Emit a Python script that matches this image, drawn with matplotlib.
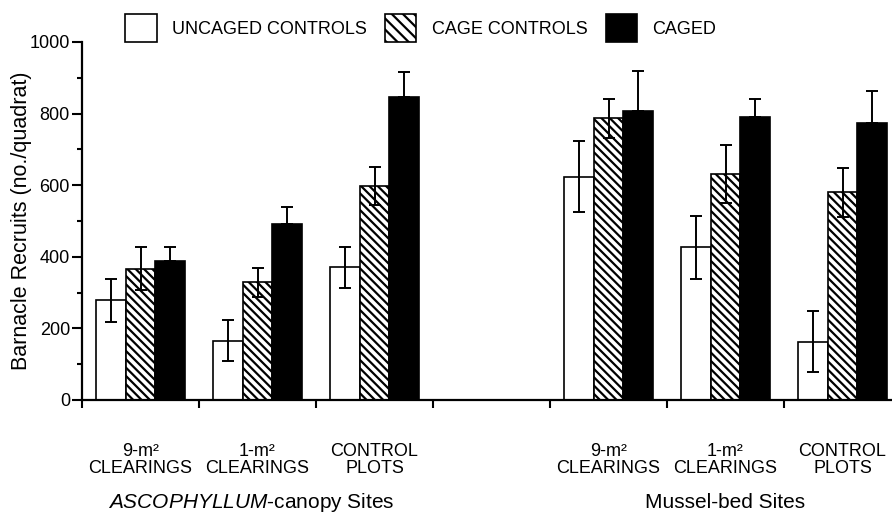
import numpy as np
import matplotlib
matplotlib.use("Agg")
import matplotlib.pyplot as plt
from matplotlib.patches import Patch
from matplotlib.transforms import blended_transform_factory
from matplotlib.ticker import MultipleLocator

plt.rcParams['font.family'] = ['Liberation Sans', 'DejaVu Sans']
plt.rcParams['mathtext.fontset'] = 'custom'
plt.rcParams['mathtext.rm'] = 'Liberation Sans'
plt.rcParams['mathtext.it'] = 'Liberation Sans:italic'
plt.rcParams['hatch.linewidth'] = 1.6

# ---- data ----
categories = ['9-m²\nCLEARINGS', '1-m²\nCLEARINGS', 'CONTROL\nPLOTS',
              '9-m²\nCLEARINGS', '1-m²\nCLEARINGS', 'CONTROL\nPLOTS']
site_labels = [r'$\mathit{ASCOPHYLLUM}$-canopy Sites', 'Mussel-bed Sites']
series_names = ['UNCAGED CONTROLS', 'CAGE CONTROLS', 'CAGED']
uncaged = [278, 166, 371, 624, 426, 163]
uncaged_err = [59, 58, 57, 100, 89, 86]
cage_ctrl = [367, 329, 599, 787, 631, 580]
cage_ctrl_err = [60, 40, 53, 55, 80, 68]
caged = [389, 492, 845, 808, 791, 775]
caged_err = [39, 46, 70, 111, 50, 89]
yticks = [0, 200, 400, 600, 800, 1000]

# ---- layout ----
W, H = 892, 512
fig = plt.figure(figsize=(W / 100, H / 100), dpi=100)
ax_left, ax_right = 82 / W, 901 / W
ax_bottom, ax_top = (H - 400) / H, (H - 42) / H
ax = fig.add_axes([ax_left, ax_bottom, ax_right - ax_left, ax_top - ax_bottom])

slot = np.array([0, 1, 2, 4, 5, 6])
centers = slot + 0.5
bw = 0.254

series = [(uncaged, uncaged_err, dict(facecolor='white', hatch=None)),
          (cage_ctrl, cage_ctrl_err, dict(facecolor='white', hatch='\\\\\\\\')),
          (caged, caged_err, dict(facecolor='black', hatch=None))]

for i, (vals, errs, st) in enumerate(series):
    x = centers + (i - 1) * bw
    ax.bar(x, vals, width=bw, facecolor=st['facecolor'], edgecolor='black',
           linewidth=1.2, hatch=st['hatch'], zorder=2, label=series_names[i])
    if i == 2:
        yerr = [np.zeros(len(errs)), errs]
    else:
        yerr = errs
    ax.errorbar(x, vals, yerr=yerr, fmt='none', ecolor='black', elinewidth=1.4,
                capsize=4, capthick=1.4, zorder=3)

ax.set_xlim(0, 7)
ax.set_ylim(0, 1000)
ax.set_xticks(np.arange(0, 8))
ax.set_xticklabels([])
ax.set_yticks(yticks)
ax.yaxis.set_minor_locator(MultipleLocator(100))
ax.tick_params(axis='y', which='major', length=7.2, width=1.5, labelsize=13, pad=1.5)
ax.tick_params(axis='y', which='minor', length=3.6, width=1.5)
ax.tick_params(axis='x', which='major', length=5.8, width=1.5)
for s in ['top', 'right']:
    ax.spines[s].set_visible(False)
for s in ['left', 'bottom']:
    ax.spines[s].set_linewidth(1.6)

ax.set_ylabel('Barnacle Recruits (no./quadrat)', fontsize=15.5)
ax.yaxis.set_label_coords(-0.061, 0.5)

trans = blended_transform_factory(ax.transData, fig.transFigure)
for c, lab in zip(centers, categories):
    ax.text(c, (H - 460) / H, lab, transform=trans, ha='center', va='center',
            fontsize=13, linespacing=1.05, clip_on=False)

site_x = [centers[:3].mean() - 0.05, centers[3:].mean()]
for sx, lab in zip(site_x, site_labels):
    ax.text(sx, (H - 502) / H, lab, transform=trans, ha='center', va='center',
            fontsize=15, clip_on=False)

handles = [Patch(facecolor='white', edgecolor='black', linewidth=1.2),
           Patch(facecolor='white', edgecolor='black', linewidth=1.2, hatch='\\\\\\'),
           Patch(facecolor='black', edgecolor='black', linewidth=1.2)]
fig.legend(handles, series_names, loc='center left', ncol=3,
           bbox_to_anchor=(125 / W, (H - 28) / H), frameon=False, fontsize=13,
           handlelength=1.75, handleheight=2.05, handletextpad=0.85,
           columnspacing=1.0, borderpad=0, borderaxespad=0)

fig.savefig('out.png', dpi=100)
